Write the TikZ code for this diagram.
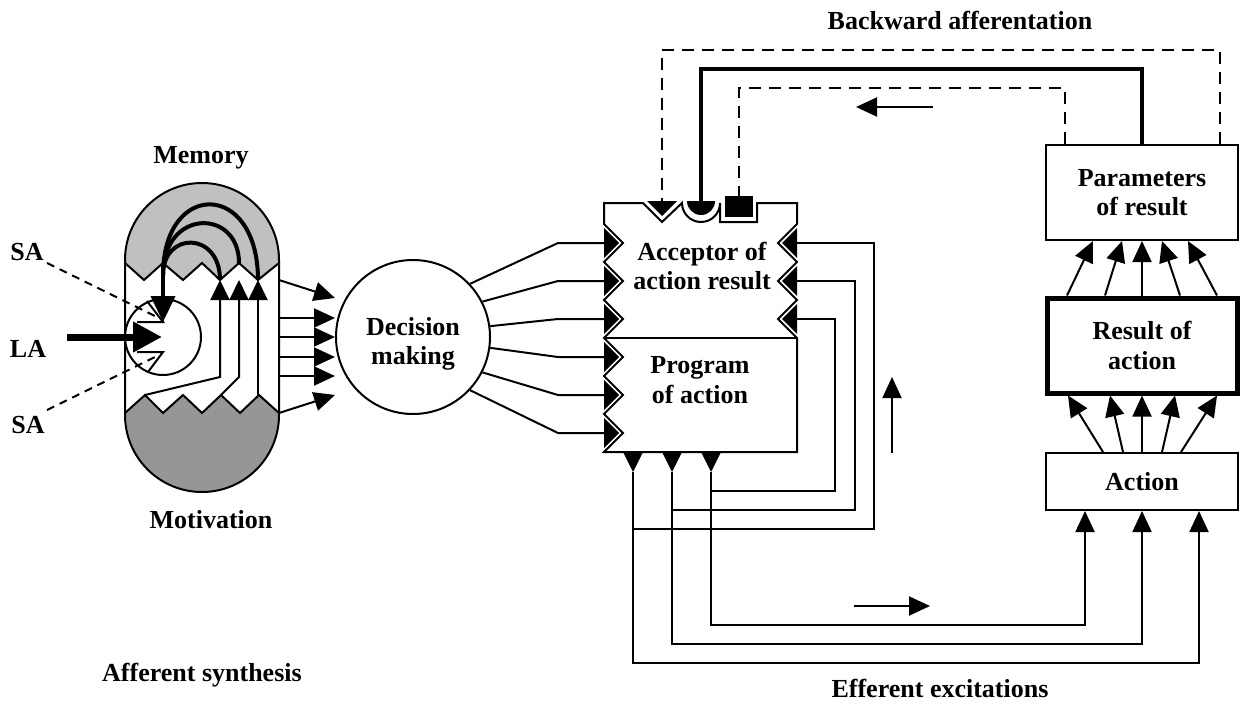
\documentclass[tikz,border=0pt]{standalone}
\usepackage{fontspec}
\setmainfont{Liberation Serif}
\usetikzlibrary{arrows.meta,positioning}
\definecolor{memgray}{RGB}{192,192,192}
\definecolor{motgray}{RGB}{150,150,150}

\begin{document}
\begin{tikzpicture}[x=0.5pt,y=-0.5pt,
    lbl/.style={font=\fontsize{13}{14.8}\selectfont\bfseries, align=center, inner sep=0pt},
    box/.style={draw, line width=1pt, lbl},
    ln/.style={line width=1pt},
    tip/.style={ln, -{Triangle[length=10.5pt,width=9.5pt]}},
    dsh/.style={ln, dash pattern=on 6pt off 4pt},
    heavy/.style={line width=2pt}]
    \useasboundingbox (0,0) rectangle (1240,706);

    % Memory and motivation capsule
    \fill[memgray] (125,263) -- (125,260) arc[start angle=180,end angle=360,radius=77] -- (279,263)
        -- (258,280) -- (239,263) -- (220,280) -- (202,263) -- (183,280) -- (163,263) -- (144,280) -- cycle;
    \fill[motgray] (125,413) -- (145,395) -- (163,413) -- (183,395) -- (202,413) -- (221,395) -- (240,413)
        -- (259,395) -- (279,413) -- (279,415) arc[start angle=0,end angle=180,radius=77] -- cycle;
    \draw[ln] (125,263) -- (144,280) -- (163,263) -- (183,280) -- (202,263) -- (220,280) -- (239,263) -- (258,280) -- (279,263);
    \draw[ln] (125,413) -- (145,395) -- (163,413) -- (183,395) -- (202,413) -- (221,395) -- (240,413) -- (259,395) -- (279,413);
    \draw[ln] (125,260) -- (125,415) arc[start angle=180,end angle=0,radius=77] -- (279,260)
        arc[start angle=0,end angle=-180,radius=77] -- cycle;

    % Labels of the afferent part
    \node[lbl, anchor=base] (mem) at (201,163) {Memory};
    \node[lbl, anchor=base] (mot) at (211,528) {Motivation};
    \node[lbl, anchor=base] (affs) at (202,681) {Afferent synthesis};
    \node[lbl, anchor=base] (sa1) at (27,260) {SA};
    \node[lbl, anchor=base] (la) at (28,357) {LA};
    \node[lbl, anchor=base] (sa2) at (28,433) {SA};

    % Receptor circle with SA and LA inputs
    \node[circle, draw, ln, minimum size=38pt, inner sep=0pt] (rc) at (163,337) {};
    \draw[ln] (147,301) -- (163,322) -- (137,322);
    \draw[ln] (137,352) -- (163,352) -- (148,372);
    \draw[ln, dash pattern=on 4pt off 3pt] (47,263) -- (157,317);
    \draw[ln, dash pattern=on 4pt off 3pt] (47,410) -- (155,357);
    \draw[line width=3.5pt, -{Triangle[length=14.5pt,width=14.5pt]}] (67,337) -- (162,337);

    % Memory retrieval
    \draw[heavy] (220,280) .. controls (220,231) and (163,231) .. (163,275);
    \draw[heavy] (239,263) .. controls (239,208) and (163,208) .. (163,275);
    \draw[heavy] (258,280) .. controls (258,180) and (163,180) .. (163,275);
    \draw[heavy, -{Triangle[length=13pt,width=12pt]}] (163,272) -- (163,322);

    % Motivation channels
    \draw[ln, -{Triangle[length=10pt,width=9.5pt]}] (145,395) -- (220,377) -- (220,280);
    \draw[ln, -{Triangle[length=10pt,width=9.5pt]}] (221,395) -- (239,377) -- (239,280);
    \draw[ln, -{Triangle[length=10pt,width=9.5pt]}] (258,395) -- (258,280);

    % Decision making
    \node[circle, draw, ln, minimum size=77pt] (dm) at (413,337) {};
    \node[lbl] (dmtext) at (413,344) {Decision\\making};
    \foreach \y in {318,337,357,376}
        \draw[tip] (278,\y) -- (335,\y);
    \draw[tip] (279,280) -- (335,298);
    \draw[tip] (279,413) -- (335,395);

    % Acceptor of action result and program of action
    \draw[ln] (604,203) -- (643,203) -- (662,222) -- (682,203) arc[start angle=180,end angle=0,radius=19]
        -- (720,222) -- (757,222) -- (757,203) -- (797,203) -- (797,224)
        -- (778,243) -- (797,262) -- (778,281) -- (797,300) -- (778,319) -- (797,338) -- (797,452)
        -- (604,452) -- (623,433) -- (604,414) -- (623,395) -- (604,376) -- (623,357) -- (604,338)
        -- (623,319) -- (604,300) -- (623,281) -- (604,262) -- (623,243) -- (604,224) -- cycle;
    \draw[ln] (604,338) -- (797,338);
    \fill (647,201) -- (677,201) -- (662,216) -- cycle;
    \fill (687,201) arc[start angle=180,end angle=0,radius=14] -- cycle;
    \fill (725,196) rectangle (753,217);
    \node[lbl] (acc) at (702,266) {Acceptor of\\action result};
    \node[lbl] (prog) at (700,380) {Program\\of action};

    \foreach \y/\a in {243/43,281/27,319/8,357/352,395/333,433/317} {
        \draw[ln] (dm.\a) -- (558,\y) -- (604,\y);
        \fill (604,\y-15) -- (619,\y) -- (604,\y+15) -- cycle;
    }

    % Result side
    \node[box, minimum width=96pt, minimum height=47.5pt] (par) at (1142,192.5) {Parameters\\of result};
    \node[box, line width=2.5pt, minimum width=95pt, minimum height=47.5pt] (res) at (1142,345.5) {Result of\\action};
    \node[box, minimum width=96pt, minimum height=28.5pt] (act) at (1142,481.5) {Action};
    \foreach \a/\b in {1103/1068,1123/1110,1142/1142,1162/1175,1181/1217}
        \draw[tip] (\a,0 |- act.north) -- (\b,0 |- res.south);
    \foreach \a/\b in {1067/1093,1105/1122,1142/1142,1180/1162,1217/1188}
        \draw[tip] (\a,0 |- res.north) -- (\b,0 |- par.south);

    % Efferent excitations
    \foreach \x/\y/\t in {711/625/1085,672/644/1142,633/663/1199} {
        \fill (\x-10,452) -- (\x+10,452) -- (\x,472) -- cycle;
        \draw[tip] (\x,472) -- (\x,\y) -- (\t,\y) -- (\t,0 |- act.south);
    }
    \foreach \y/\x/\b/\c in {243/874/529/633,281/855/510/672,319/835/491/711} {
        \fill (797,\y-15) -- (782,\y) -- (797,\y+15) -- cycle;
        \draw[ln] (797,\y) -- (\x,\y) -- (\x,\b) -- (\c,\b);
    }

    % Backward afferentation
    \draw[dsh] (1220,0 |- par.north) -- (1220,50) -- (662,50) -- (662,201);
    \draw[heavy] (1142,0 |- par.north) -- (1142,69) -- (701,69) -- (701,201);
    \draw[dsh] (1065,0 |- par.north) -- (1065,88) -- (739,88) -- (739,196);

    % Direction arrows
    \draw[tip] (933,107) -- (856,107);
    \draw[tip] (854,606) -- (930,606);
    \draw[tip] (892,453) -- (892,377);

    \node[lbl, anchor=base] (baff) at (960,30) {Backward afferentation};
    \node[lbl, anchor=base] (eff) at (940,697) {Efferent excitations};
\end{tikzpicture}
\end{document}
